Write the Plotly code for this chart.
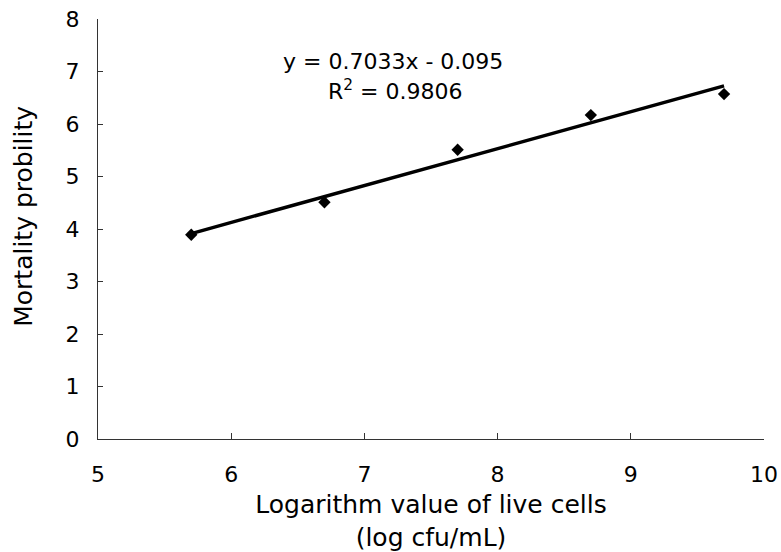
import plotly.graph_objects as go

# Data
log_cells = [5.7, 6.7, 7.7, 8.7, 9.7]
mortality_probit = [3.89, 4.51, 5.51, 6.17, 6.57]

# Trendline as printed on the chart
slope = 0.7033
intercept = -0.095
r_squared = 0.9806
trend_x = [log_cells[0], log_cells[-1]]
trend_y = [slope * v + intercept for v in trend_x]

x_title = "Logarithm value of live cells<br>(log cfu/mL)"
y_title = "Mortality probility"
eq_text = "y = 0.7033x - 0.095"
r2_text = "R<sup>2</sup> = 0.9806"

FONT = "DejaVu Sans, Verdana, sans-serif"

fig = go.Figure()
fig.add_trace(go.Scatter(
    x=trend_x, y=trend_y, mode="lines",
    line=dict(color="black", width=3.4),
    showlegend=False, hoverinfo="skip",
))
fig.add_trace(go.Scatter(
    x=log_cells, y=mortality_probit, mode="markers",
    marker=dict(symbol="diamond", size=9.5, color="black"),
    showlegend=False,
))

fig.update_layout(
    width=781, height=552,
    margin=dict(l=97.5, r=17, t=19, b=112.7),
    paper_bgcolor="white", plot_bgcolor="white",
    font=dict(family=FONT, size=22, color="black"),
    xaxis=dict(
        range=[5, 10], dtick=1, tick0=5,
        showline=True, linecolor="#333", linewidth=1,
        ticks="inside", ticklen=6, tickcolor="#333",
        showgrid=False, zeroline=False, automargin=False,
        tickfont=dict(size=22), ticklabeloverflow="allow",
        ticklabelstandoff=16,
        title=dict(text=x_title, font=dict(size=25), standoff=12),
    ),
    yaxis=dict(
        range=[0, 8], dtick=1, tick0=0,
        showline=True, linecolor="#333", linewidth=1,
        ticks="inside", ticklen=5, tickcolor="#333",
        showgrid=False, zeroline=False, automargin=False,
        tickfont=dict(size=22), ticklabeloverflow="allow",
        ticklabelstandoff=13,
    ),
    annotations=[
        dict(text=y_title, xref="paper", yref="paper", x=-0.112, y=0.530,
             showarrow=False, xanchor="center", yanchor="middle",
             textangle=-90, font=dict(size=25)),
        dict(text=eq_text, xref="paper", yref="paper", x=0.4434, y=0.898,
             showarrow=False, xanchor="center", yanchor="middle",
             font=dict(size=22)),
        dict(text=r2_text, xref="paper", yref="paper", x=0.446, y=0.831,
             showarrow=False, xanchor="center", yanchor="middle",
             font=dict(size=22)),
    ],
)

fig.write_html(
    "out.html",
    config={"displayModeBar": False},
    post_script="document.body.style.margin='0';"
                "document.documentElement.style.overflow='hidden';",
)
